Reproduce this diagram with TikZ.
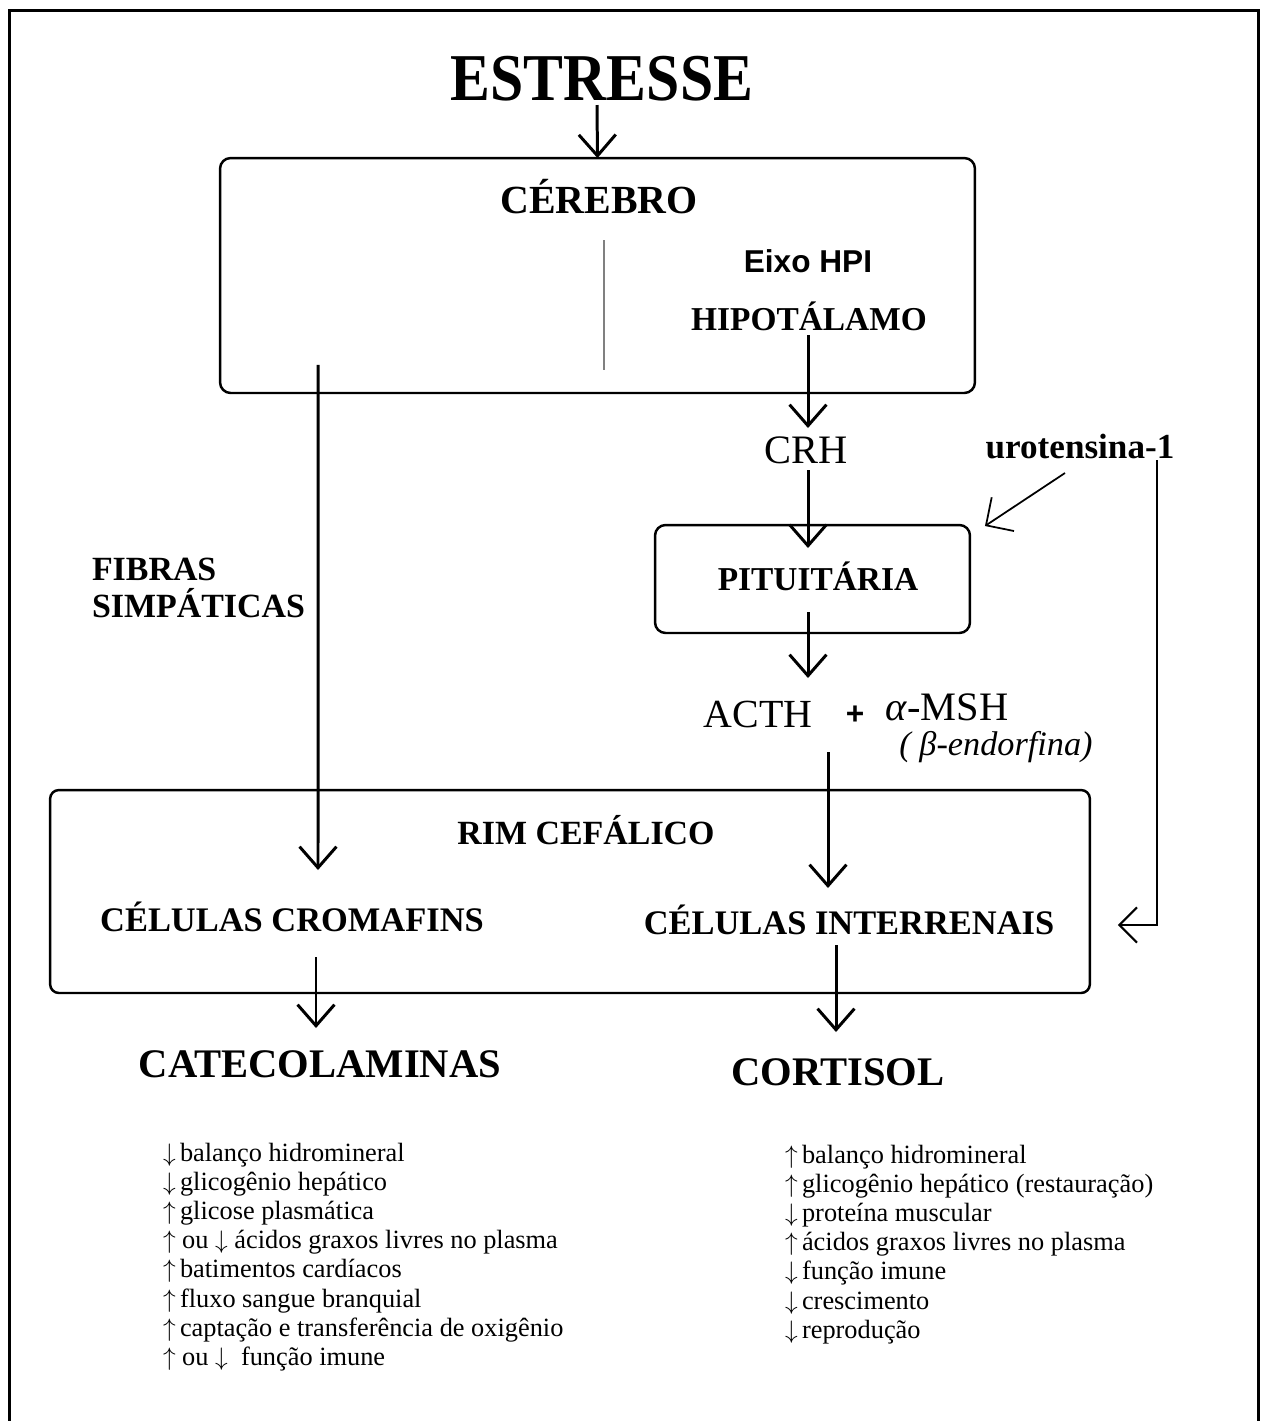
\documentclass[tikz,border=0pt]{standalone}
\usepackage{fontspec}
\setmainfont{Liberation Serif}
\setsansfont{Liberation Sans}
\usetikzlibrary{arrows.meta,calc}
\newcommand{\dn}{$\downarrow$}
\newcommand{\upa}{$\uparrow$}
\newcommand{\dnl}{$\downarrow$\kern2.5pt}
\newcommand{\upl}{$\uparrow$\kern2.5pt}
\begin{document}
\begin{tikzpicture}[x=0.02cm,y=-0.02cm,
  lbl/.style={inner sep=0pt, outer sep=0pt, anchor=base},
  boxn/.style={draw, line width=1.4pt, rounded corners=6pt, inner sep=0pt, outer sep=0pt},
  arr/.style={line width=1.7pt, -{Straight Barb[length=12pt,width=21pt]}},
  thinarr/.style={line width=1pt, -{Straight Barb[length=11.5pt,width=23pt,angle'=90]}},
  looparr/.style={line width=1.2pt, -{Straight Barb[length=10pt,width=20pt]}},
  listtxt/.style={inner sep=0pt, outer sep=0pt, anchor=north west, align=left, font=\fontsize{15}{16.6}\selectfont}
]
\useasboundingbox (0,0) rectangle (1266,1421);
% outer frame
\draw[line width=1.7pt] (9.5,1421) -- (9.5,10.5) -- (1258.5,10.5) -- (1258.5,1421);

% boxes
\node[boxn, minimum width=15.1cm, minimum height=4.7cm] (cerebro) at (597.5,275.5) {};
\node[boxn, minimum width=6.3cm, minimum height=2.16cm] (pitbox) at (812.5,579) {};
\node[boxn, minimum width=20.8cm, minimum height=4.06cm, rounded corners=5pt] (rim) at (570,891.5) {};
\draw[line width=0.7pt, gray] ($(cerebro.north west)+(384,82)$) coordinate (divtop) -- ($(cerebro.north west)+(384,212)$) coordinate (divbot);

% labels
\node[lbl, font=\bfseries\fontsize{34}{40}\selectfont] (estresse) at (602,100) {\scalebox{1}[1.12]{ESTRESSE}};
\node[lbl, font=\bfseries\fontsize{22.7}{27}\selectfont] (cerebrolbl) at (599,213) {CÉREBRO};
\node[lbl, font=\sffamily\bfseries\fontsize{18}{22}\selectfont] (eixo) at (808,272) {Eixo HPI};
\node[lbl, font=\bfseries\fontsize{19}{23}\selectfont] (hip) at (809,330) {HIPOTÁLAMO};
\node[lbl, font=\fontsize{23}{27}\selectfont] (crh) at (806,463) {CRH};
\node[lbl, font=\bfseries\fontsize{20}{24}\selectfont] (uro) at (1080,458) {urotensina-1};
\node[lbl, font=\bfseries\fontsize{19}{23}\selectfont] (pitlbl) at (818,590) {PITUITÁRIA};
\node[lbl, font=\fontsize{22.7}{27}\selectfont] (acth) at (758,727) {ACTH};
\node[inner sep=0pt, font=\sffamily\bfseries\fontsize{18}{22}\selectfont] (plus) at (855,715) {+};
\node[lbl, font=\fontsize{23}{27}\selectfont] (msh) at (947,720) {\textit{α}-MSH};
\node[lbl, font=\itshape\fontsize{19.5}{23}\selectfont] (endo) at (996,755) {( β-endorfina)};
\node[inner sep=0pt, outer sep=0pt, anchor=west, align=left, font=\bfseries\fontsize{19.3}{21.5}\selectfont] (fibras) at (92,588) {FIBRAS\\SIMPÁTICAS};
\node[lbl, font=\bfseries\fontsize{19.3}{23}\selectfont] (rimlbl) at (586,844) {RIM CEFÁLICO};
\node[lbl, font=\bfseries\fontsize{19.6}{23}\selectfont] (crom) at (292,931) {CÉLULAS CROMAFINS};
\node[lbl, font=\bfseries\fontsize{19.6}{23}\selectfont] (inter) at (849,934) {CÉLULAS INTERRENAIS};
\node[lbl, font=\bfseries\fontsize{23.1}{27}\selectfont] (catecol) at (320,1077) {CATECOLAMINAS};
\node[lbl, font=\bfseries\fontsize{23.1}{27}\selectfont] (cortisol) at (838,1085) {CORTISOL};

% effect lists
\node[listtxt] (catlist) at (163,1143) {\dnl balanço hidromineral\\
\dnl glicogênio hepático\\
\upl glicose plasmática\\
\upa{} ou \dn{} ácidos graxos livres no plasma\\
\upl batimentos cardíacos\\
\upl fluxo sangue branquial\\
\upl captação e transferência de oxigênio\\
\upa{} ou \dn{}~ função imune};
\node[listtxt] (cortlist) at (785,1145) {\upl balanço hidromineral\\
\upl glicogênio hepático (restauração)\\
\dnl proteína muscular\\
\upl ácidos graxos livres no plasma\\
\dnl função imune\\
\dnl crescimento\\
\dnl reprodução};

% connectors
\draw[arr] ($(estresse.base)+(-5,5)$) -- (cerebro.north);
\draw[arr] ($(hip.base)+(-1,5)$) -- ($(crh.base)+(2,-35)$);
\draw[arr] ($(crh.base)+(2,7)$) -- ($(pitlbl.base)+(-10,-42)$);
\draw[arr] ($(pitlbl.base)+(-10,22)$) -- ($(acth.base)+(50,-49)$);
\draw[arr] ($(acth.base)+(70,25)$) -- ($(inter.base)+(-21,-46)$);
\draw[arr] ($(cerebro.south west)+(98,-28)$) -- ($(crom.base)+(26,-61)$);
\draw[arr] ($(crom.base)+(24,26)$) -- ($(catecol.base)+(-4,-49)$);
\draw[arr] ($(inter.base)+(-13,11)$) -- ($(cortisol.base)+(-2,-53)$);
\draw[thinarr] ($(uro.base)+(-15,15)$) -- ($(pitbox.north east)+(15,1)$);
\draw[looparr] ($(uro.base)+(77,2)$) |- ($(rim.east)+(28,33.5)$);
\end{tikzpicture}
\end{document}
